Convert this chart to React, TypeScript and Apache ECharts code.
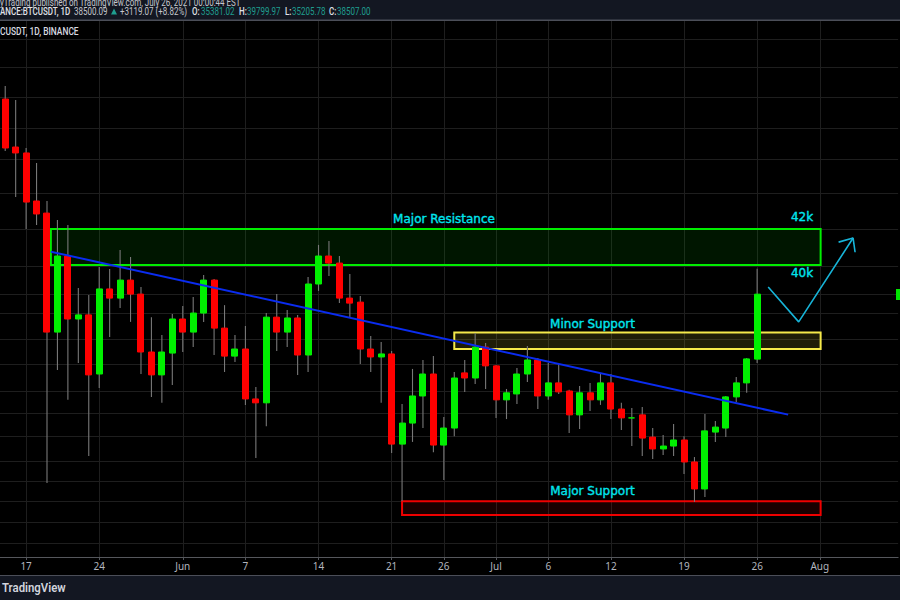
import React, { useEffect, useRef } from "react";
import * as echarts from "echarts";

// Daily candles, 15 May to 26 Jul 2021
const opens = [49660,46650,46290,43480,42800,36650,40470,37280,37480,34700,38770,38310,39220,38510,35710,34660,35660,37280,36650,37570,39220,36840,35520,35850,33590,33420,37370,36650,37330,35570,39020,40470,40100,38310,38110,35850,35480,35620,31670,32550,33720,34700,31630,32340,34750,34520,35940,35070,33550,33810,34700,35340,33720,34300,33940,32900,33860,33550,34300,33150,32770,32900,31960,31470,31590,31840,30940,29870,32170,32340,33680,34300,35381];
const closes = [46590,46290,43420,42750,36650,40470,37280,37480,34660,38770,38310,39220,38510,35710,34660,35710,37280,36650,37570,39220,36840,35520,35850,33590,33420,37370,36650,37330,35570,39020,40470,40100,38310,38060,35850,35480,35620,31670,32550,33720,34700,31630,32340,34520,34520,35940,35070,33550,33860,34700,35340,33720,34300,33900,32900,33860,33550,34300,33150,32770,32770,31920,31470,31590,31840,30940,29870,32220,32380,33680,34300,35390,38507];
const lows = [46410,43710,41920,42140,30100,34880,33550,35200,31180,34070,36420,37820,37140,34700,33680,33420,34210,35710,35940,37140,35570,34790,35250,33330,31100,32420,35760,35940,34660,34790,38670,39430,38060,37330,35160,34790,33420,31300,29400,31760,32340,31340,30220,32000,33900,34250,34030,32770,32720,33370,34340,33150,33550,33810,32130,32300,33070,33330,32720,32260,31590,31180,31060,31220,31180,30460,29370,29560,31760,31960,33460,33860,35205.78];
const highs = [50510,49600,46590,45690,43480,42420,42140,38820,38460,39900,39790,40790,40420,38870,37370,36510,37520,37920,38360,39480,39280,37960,36510,36940,34120,37570,38510,37720,37480,39380,41060,41270,40470,39530,38410,36460,36180,35760,33370,34930,35340,35520,32810,34790,35340,36610,36130,35110,34030,34970,35990,35430,35200,35160,33990,34160,34300,34750,34700,33420,33200,33240,32340,32050,32510,32000,31140,32940,32640,33720,34570,35430,39799.97];

const monthNames = ["05", "06", "07", "08"];
const monthSpans = [[15, 31], [1, 30], [1, 31], [1, 8]];
const categories: string[] = [];
monthSpans.forEach(([a, b], m) => {
  for (let d = a; d <= b; d++) categories.push(monthNames[m] + "-" + String(d).padStart(2, "0"));
});

const tickDates = ["05-17","05-24","06-01","06-07","06-14","06-21","06-26","07-01","07-06","07-12","07-19","07-26","08-01"];
const tickLabels = ["17","24","Jun","7","14","21","26","Jul","6","12","19","26","Aug"];
const gridPrices = [53710,51780,49800,47825,45930,43940,41920,39950,38510,37570,36320,35160,33940,32980,32000,30980,30180,29400,28610,27840];

// zones: [first day, top price, last day, bottom price]
const zoneResistance = [4.37, 41920, 78.08, 40000];
const zoneMinor = [43.0, 36630, 78.08, 35850];
const zoneMajor = [38.0, 29400, 78.08, 28870];
const trendLine = [[4.37, 40700], [74.97, 32910]];
const projection = [[73.06, 38870], [75.98, 37140], [81.19, 41430]];
const arrowHead = [[79.8, 41210], [81.19, 41430], [81.38, 40670]];

const W = 900, H = 600;

function zoneSeries(name: string, zone: number[], stroke: string, fill: string) {
  return {
    type: "custom", name, xAxisIndex: 1, yAxisIndex: 0, z: 1, silent: true,
    clip: false,
    data: [zone],
    encode: { x: [0, 2], y: [1, 3] },
    renderItem: (_p: any, api: any) => {
      const a = api.coord([api.value(0), api.value(1)]);
      const b = api.coord([api.value(2), api.value(3)]);
      return {
        type: "rect",
        shape: { x: a[0], y: a[1], width: b[0] - a[0], height: b[1] - a[1] },
        style: { fill, stroke, lineWidth: 2 },
      };
    },
  };
}

const headerFont = "Roboto";
function hText(x: number, y: number, text: string, fill: string, fontWeight: any = 400, fontSize = 10, scaleX = 0.8) {
  return { type: "text", x, y, scaleX, silent: true, z: 50,
    style: { text, fill, fontSize, fontWeight, fontFamily: headerFont, textVerticalAlign: "middle", textBaseline: "middle" } };
}
function note(x: number, y: number, text: string, fontSize = 12) {
  return { type: "text", x, y, silent: true, z: 50,
    style: { text, fill: "#00e5ee", stroke: "#00e5ee", lineWidth: 0.35, fontSize, fontWeight: 500, fontFamily: "DejaVu Sans", textAlign: "center", textVerticalAlign: "middle", textBaseline: "middle" } };
}

export default function App() {
  const ref = useRef<HTMLDivElement>(null);
  useEffect(() => {
    document.body.style.margin = "0";
    const chart = echarts.init(ref.current!, null, { renderer: "svg" });
    const wicks = opens.map((_o, i) => [i, lows[i], highs[i]]);
    const bodies = opens.map((o, i) => [o, closes[i], Math.min(o, closes[i]), Math.max(o, closes[i])]);
    const teal = "#1f9e8f";
    const grey = "#c4c6cc";
    chart.setOption({
      animation: false,
      backgroundColor: "#000000",
      grid: { left: -1.45, top: 21, width: 899.56, height: 536, containLabel: false },
      xAxis: [
        {
          type: "category", data: categories, boundaryGap: true,
          axisLine: { lineStyle: { color: "#55575c", width: 1 } },
          axisTick: { show: true, alignWithLabel: true, length: 3, lineStyle: { color: "#55575c" },
            interval: (_i: number, v: string) => tickDates.includes(v) },
          axisLabel: { color: "#b2b5be", fontSize: 10, margin: 4, fontFamily: "Noto Sans",
            interval: (_i: number, v: string) => tickDates.includes(v),
            formatter: (v: string) => tickLabels[tickDates.indexOf(v)] ?? "" },
          splitLine: { show: false },
        },
        { type: "value", min: -0.5, max: 85.5, show: false, splitLine: { show: false } },
      ],
      yAxis: [{
        type: "log", min: 27335, max: 54980, show: false, splitLine: { show: false },
      }],
      series: [
        {
          type: "line", name: "grid", xAxisIndex: 1, yAxisIndex: 0, z: 0, silent: true, data: [],
          markLine: {
            z: 0, silent: true, symbol: "none", label: { show: false }, animation: false,
            lineStyle: { color: "#1e1e1e", width: 1, type: "solid" },
            data: [
              ...gridPrices.map((p) => ({ yAxis: p })),
              ...tickDates.map((d) => ({ xAxis: categories.indexOf(d) })),
            ],
          },
        },
        zoneSeries("Major Resistance", zoneResistance, "#00ee00", "rgba(0,200,0,0.11)"),
        zoneSeries("Minor Support", zoneMinor, "#f5e94a", "rgba(255,235,60,0.12)"),
        zoneSeries("Major Support", zoneMajor, "#f00000", "rgba(255,0,0,0.1)"),
        {
          type: "custom", name: "wicks", xAxisIndex: 0, yAxisIndex: 0, z: 2, silent: true, data: wicks,
          encode: { x: 0, y: [1, 2] },
          renderItem: (_p: any, api: any) => {
            const a = api.coord([api.value(0), api.value(1)]);
            const b = api.coord([api.value(0), api.value(2)]);
            return { type: "line", shape: { x1: a[0], y1: a[1], x2: b[0], y2: b[1] }, style: { stroke: "#787878", lineWidth: 1.1 } };
          },
        },
        {
          type: "candlestick", name: "BTCUSDT", xAxisIndex: 0, yAxisIndex: 0, z: 3, data: bodies, barWidth: 6.5,
          itemStyle: { color: "#00f000", color0: "#ff0000", borderColor: "#00f000", borderColor0: "#ff0000", borderWidth: 1 },
        },
        {
          type: "line", name: "trend", xAxisIndex: 1, yAxisIndex: 0, z: 4, data: trendLine, showSymbol: false, symbol: "none",
          lineStyle: { color: "#0a2cf0", width: 2 }, silent: true,
        },
        {
          type: "line", name: "projection", xAxisIndex: 1, yAxisIndex: 0, z: 4, data: projection, showSymbol: false, symbol: "none",
          lineStyle: { color: "#17b4d8", width: 1.6 }, silent: true,
        },
        {
          type: "line", name: "arrow", xAxisIndex: 1, yAxisIndex: 0, z: 4, data: arrowHead, showSymbol: false, symbol: "none",
          lineStyle: { color: "#17b4d8", width: 1.6 }, silent: true,
        },
      ],
      graphic: [
        { type: "rect", z: 40, silent: true, shape: { x: 0, y: 0, width: W, height: 20 }, style: { fill: "#131722" } },
        { type: "rect", z: 41, silent: true, shape: { x: 0, y: 19.5, width: W, height: 1.5 }, style: { fill: "#4b4e58" } },
        { type: "rect", z: 40, silent: true, shape: { x: 0, y: 575, width: W, height: 25 }, style: { fill: "#131722" } },
        { type: "rect", z: 41, silent: true, shape: { x: 0, y: 575, width: W, height: 1 }, style: { fill: "#4b4e58" } },
        { type: "rect", z: 41, silent: true, shape: { x: 896, y: 289, width: 4, height: 11 }, style: { fill: "#00e600" } },
        hText(0, 2.5, "yTrading published on TradingView.com, July 26, 2021 00:00:44 EST", grey),
        hText(0, 11.5, "ANCE:BTCUSDT, 1D", "#e0e2e8", 500),
        hText(74, 11.5, "38500.09", grey),
        { type: "polygon", z: 50, silent: true, shape: { points: [[111, 14.5], [117, 14.5], [114, 8.5]] }, style: { fill: teal } },
        hText(120, 11.5, "+3119.07 (+8.82%)", grey),
        hText(192, 11.5, "O:", "#e0e2e8", 500), hText(201, 11.5, "35381.02", teal),
        hText(239, 11.5, "H:", "#e0e2e8", 500), hText(247, 11.5, "39799.97", teal),
        hText(285, 11.5, "L:", "#e0e2e8", 500), hText(292, 11.5, "35205.78", teal),
        hText(329, 11.5, "C:", "#e0e2e8", 500), hText(337, 11.5, "38507.00", teal),
        hText(0, 31.5, "CUSDT, 1D, BINANCE", "#d8dae0", 500, 10, 0.84),
        hText(2, 588, "TradingView", "#d1d4dc", 600, 12, 0.95),
        note(444, 219, "Major Resistance"),
        note(592.5, 323.5, "Minor Support"),
        note(592.5, 491, "Major Support"),
        note(802, 217, "42k"),
        note(802, 273, "40k"),
      ],
    });
    return () => chart.dispose();
  }, []);
  return <div ref={ref} style={{ width: W, height: H, position: "fixed", left: 0, top: 0 }} />;
}
